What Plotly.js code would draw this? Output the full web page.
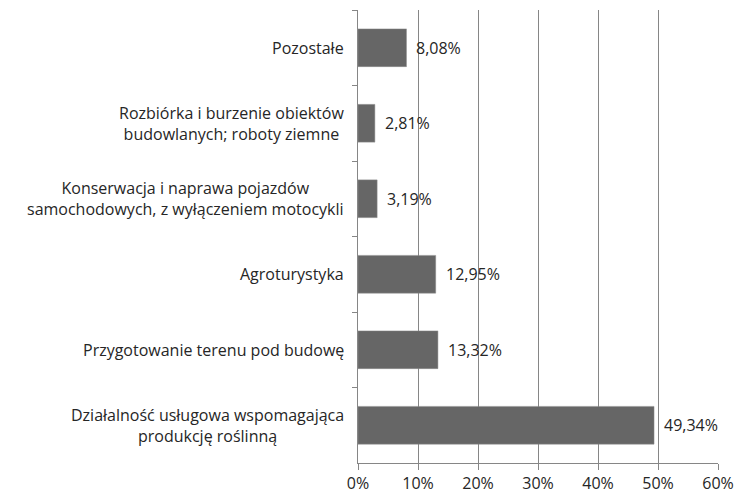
<!DOCTYPE html>
<html>
<head>
<meta charset="utf-8">
<script src="https://cdn.plot.ly/plotly-3.0.1.min.js"></script>
<style>html,body{margin:0;padding:0;background:#fff;}#chart{width:735px;height:495px;}</style>
</head>
<body>
<div id="chart"></div>
<script>
// Categories, top to bottom
var categories = [
  "Pozostałe",
  "Rozbiórka i burzenie obiektów<br>budowlanych; roboty ziemne",
  "Konserwacja i naprawa pojazdów<br>samochodowych, z wyłączeniem motocykli",
  "Agroturystyka",
  "Przygotowanie terenu pod budowę",
  "Działalność usługowa wspomagająca<br>produkcję roślinną"
];
var values = [8.08, 2.81, 3.19, 12.95, 13.32, 49.34];
var valueLabels = ["8,08%", "2,81%", "3,19%", "12,95%", "13,32%", "49,34%"];
var xTickVals = [0, 10, 20, 30, 40, 50, 60];
var xTickText = ["0%", "10%", "20%", "30%", "40%", "50%", "60%"];

var FONT = "Open Sans, Liberation Sans, sans-serif";
var TXT = "#262626";
var FS = 16;

var trace = {
  type: "bar",
  orientation: "h",
  y: categories,
  x: values,
  marker: {color: "#666666", line: {color: "#8c8c8c", width: 0.5}},
  hoverinfo: "none"
};

var annotations = [];
categories.forEach(function (c, i) {
  annotations.push({
    xref: "x", yref: "y", x: 0, y: c, text: c,
    xanchor: "right", yanchor: "middle", align: "center",
    xshift: -12, showarrow: false,
    font: {family: FONT, size: FS, color: TXT}
  });
  annotations.push({
    xref: "x", yref: "y", x: values[i], y: c, text: valueLabels[i],
    xanchor: "left", yanchor: "middle", align: "left",
    xshift: 8, showarrow: false,
    font: {family: FONT, size: FS, color: TXT}
  });
});

var layout = {
  width: 735, height: 495,
  margin: {l: 358, r: 17, t: 10, b: 32, pad: 0},
  paper_bgcolor: "#ffffff", plot_bgcolor: "#ffffff",
  showlegend: false,
  bargap: 0.5,
  font: {family: FONT, size: FS, color: TXT},
  xaxis: {
    range: [0, 60], tickvals: xTickVals, ticktext: xTickText,
    showgrid: true, gridcolor: "#868686", gridwidth: 1,
    zeroline: false, showline: true, linecolor: "#868686", linewidth: 1,
    ticks: "outside", ticklen: 6, tickcolor: "#868686",
    tickfont: {family: FONT, size: FS, color: TXT}, fixedrange: true
  },
  yaxis: {
    type: "category", autorange: "reversed",
    showticklabels: false, showgrid: false, zeroline: false,
    showline: true, linecolor: "#868686", linewidth: 1,
    ticks: "outside", ticklen: 5, tickcolor: "#868686", tickson: "boundaries",
    fixedrange: true
  },
  annotations: annotations
};

Plotly.newPlot("chart", [trace], layout, {displayModeBar: false, staticPlot: true});
</script>
</body>
</html>
